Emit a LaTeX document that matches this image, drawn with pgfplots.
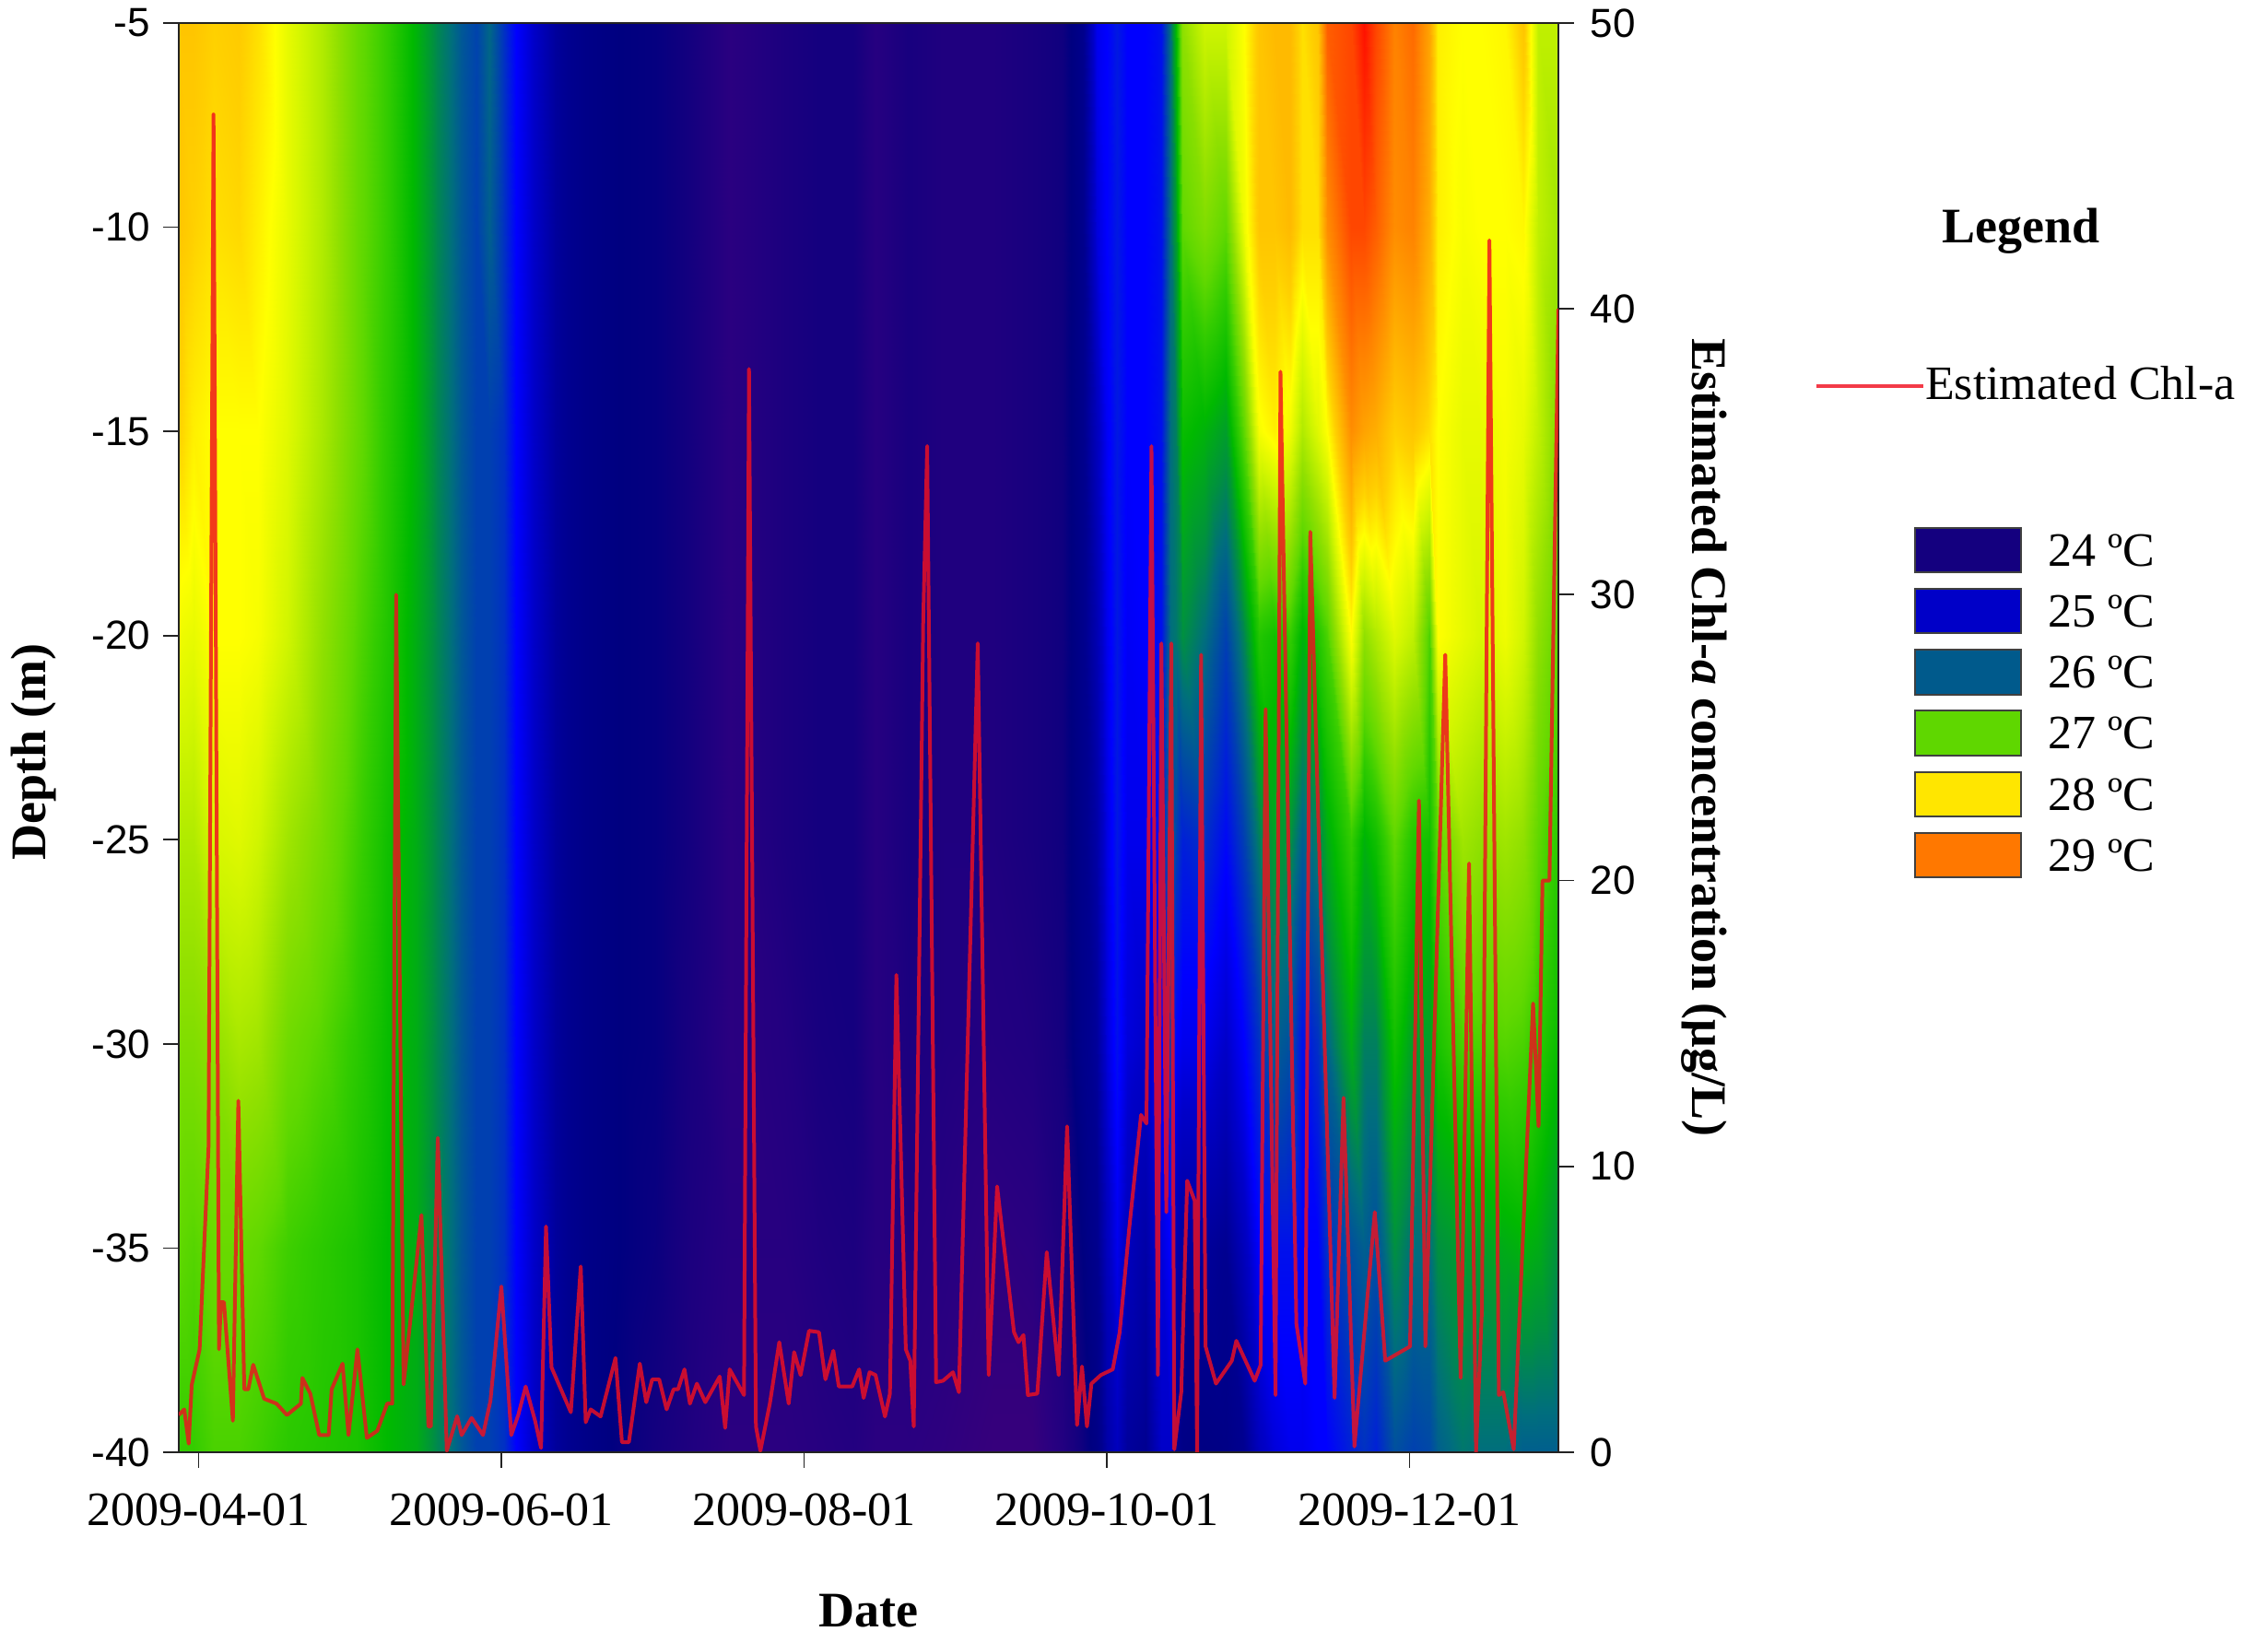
\documentclass[border=0pt]{standalone}
\usepackage{fontspec}
\setmainfont{Liberation Serif}
\setsansfont{Liberation Sans}
\usepackage{pgfplots}
\pgfplotsset{compat=1.18}
\pgfplotsset{colormap={tempc}{
 rgb255(235)=(58,0,122)
 rgb255(237)=(42,0,128)
 rgb255(240)=(20,0,127)
 rgb255(242)=(0,0,128)
 rgb255(245)=(0,0,144)
 rgb255(250)=(0,0,200)
 rgb255(253)=(0,0,255)
 rgb255(257)=(0,64,176)
 rgb255(260)=(0,110,125)
 rgb255(262)=(0,144,64)
 rgb255(265)=(0,185,0)
 rgb255(268)=(51,204,0)
 rgb255(270)=(96,216,0)
 rgb255(273)=(144,224,0)
 rgb255(277)=(208,245,0)
 rgb255(280)=(255,255,0)
 rgb255(283)=(255,208,0)
 rgb255(290)=(255,130,0)
 rgb255(295)=(255,70,0)
 rgb255(300)=(255,10,0)
}}
\definecolor{chl}{RGB}{240,16,32}
\definecolor{axc}{RGB}{35,35,35}
\begin{document}
\begin{tikzpicture}
\path[use as bounding box] (0,0) rectangle (615.25pt,445.75pt);
\begin{axis}[
  at={(48.5pt,51.75pt)}, anchor=south west,
  scale only axis, width=374.25pt, height=387.75pt,
  view={0}{90},
  xmin=-4, xmax=274, ymin=-40, ymax=-5,
  point meta min=23.5, point meta max=30,
  colormap name=tempc,
  xtick={0,61,122,183,244},
  xticklabels={2009-04-01,2009-06-01,2009-08-01,2009-10-01,2009-12-01},
  ytick={-40,-35,-30,-25,-20,-15,-10,-5},
  ztick=\empty,
  xtick pos=lower, ytick pos=left,
  tick align=outside,
  major tick length=4.2pt,
  tick style={color=axc,line width=0.45pt},
  axis line style={color=axc,line width=0.5pt},
  axis on top,
  /pgf/number format/assume math mode=true,
  xticklabel style={font=\fontsize{13}{15}\selectfont,yshift=-3.6pt},
  yticklabel style={font=\sffamily\fontsize{11}{13}\selectfont,xshift=0pt},
  xlabel={\textbf{Date}},
  ylabel={\textbf{Depth (m)}},
  xlabel style={font=\fontsize{13.5}{16}\selectfont,at={(axis description cs:0.5,-0.111)},anchor=center},
  ylabel style={font=\fontsize{13.5}{16}\selectfont,at={(axis description cs:-0.105,0.49)},anchor=center,rotate=0},
]
\addplot3[surf,shader=interp,mesh/rows=8,mesh/ordering=y varies] coordinates {
(-4,-40,26.8)(-4,-35,27.0)(-4,-30,27.2)(-4,-25,27.5)(-4,-20,27.9)(-4,-15,28.3)(-4,-10,28.4)(-4,-5,28.4)
(-1,-40,26.8)(-1,-35,26.95)(-1,-30,27.2)(-1,-25,27.5)(-1,-20,27.85)(-1,-15,28.1)(-1,-10,28.3)(-1,-5,28.4)
(3,-40,26.9)(3,-35,27.05)(3,-30,27.3)(3,-25,27.75)(3,-20,28.0)(3,-15,28.0)(3,-10,28.2)(3,-5,28.3)
(8,-40,26.9)(8,-35,27.05)(8,-30,27.45)(8,-25,27.8)(8,-20,28.0)(8,-15,28.0)(8,-10,28.25)(8,-5,28.35)
(12,-40,26.85)(12,-35,27.0)(12,-30,27.4)(12,-25,27.7)(12,-20,27.95)(12,-15,28.0)(12,-10,28.1)(12,-5,28.2)
(18,-40,26.75)(18,-35,26.85)(18,-30,27.1)(18,-25,27.4)(18,-20,27.7)(18,-15,27.8)(18,-10,27.85)(18,-5,27.85)
(25,-40,26.7)(25,-35,26.75)(25,-30,26.95)(25,-25,27.15)(25,-20,27.3)(25,-15,27.45)(25,-10,27.5)(25,-5,27.5)
(32,-40,26.65)(32,-35,26.65)(32,-30,26.75)(32,-25,26.85)(32,-20,26.95)(32,-15,27.05)(32,-10,27.05)(32,-5,27.05)
(38,-40,26.5)(38,-35,26.5)(38,-30,26.55)(38,-25,26.6)(38,-20,26.7)(38,-15,26.75)(38,-10,26.8)(38,-5,26.8)
(44,-40,26.4)(44,-35,26.4)(44,-30,26.4)(44,-25,26.4)(44,-20,26.4)(44,-15,26.45)(44,-10,26.45)(44,-5,26.45)
(48,-40,26.15)(48,-35,26.15)(48,-30,26.15)(48,-25,26.15)(48,-20,26.15)(48,-15,26.15)(48,-10,26.15)(48,-5,26.15)
(51,-40,26.0)(51,-35,26.0)(51,-30,26.0)(51,-25,26.0)(51,-20,26.0)(51,-15,26.0)(51,-10,26.0)(51,-5,26.0)
(53,-40,25.85)(53,-35,25.85)(53,-30,25.85)(53,-25,25.85)(53,-20,25.85)(53,-15,25.85)(53,-10,25.85)(53,-5,25.85)
(56,-40,25.7)(56,-35,25.7)(56,-30,25.7)(56,-25,25.7)(56,-20,25.7)(56,-15,25.7)(56,-10,25.7)(56,-5,25.72)
(58.5,-40,25.7)(58.5,-35,25.7)(58.5,-30,25.7)(58.5,-25,25.7)(58.5,-20,25.7)(58.5,-15,25.7)(58.5,-10,25.9)(58.5,-5,25.95)
(61.5,-40,25.6)(61.5,-35,25.6)(61.5,-30,25.6)(61.5,-25,25.6)(61.5,-20,25.6)(61.5,-15,25.6)(61.5,-10,25.6)(61.5,-5,25.6)
(64,-40,25.3)(64,-35,25.3)(64,-30,25.3)(64,-25,25.3)(64,-20,25.3)(64,-15,25.3)(64,-10,25.3)(64,-5,25.3)
(67,-40,25.05)(67,-35,25.05)(67,-30,25.05)(67,-25,25.05)(67,-20,25.05)(67,-15,25.05)(67,-10,25.05)(67,-5,25.05)
(72,-40,24.6)(72,-35,24.6)(72,-30,24.6)(72,-25,24.6)(72,-20,24.6)(72,-15,24.6)(72,-10,24.6)(72,-5,24.6)
(78,-40,24.35)(78,-35,24.35)(78,-30,24.35)(78,-25,24.35)(78,-20,24.35)(78,-15,24.35)(78,-10,24.35)(78,-5,24.35)
(85,-40,24.15)(85,-35,24.2)(85,-30,24.2)(85,-25,24.2)(85,-20,24.2)(85,-15,24.2)(85,-10,24.2)(85,-5,24.2)
(92,-40,24.0)(92,-35,24.1)(92,-30,24.15)(92,-25,24.15)(92,-20,24.15)(92,-15,24.15)(92,-10,24.15)(92,-5,24.15)
(99,-40,23.85)(99,-35,23.9)(99,-30,23.95)(99,-25,24.0)(99,-20,24.0)(99,-15,24.0)(99,-10,24.0)(99,-5,24.0)
(107,-40,23.7)(107,-35,23.75)(107,-30,23.7)(107,-25,23.7)(107,-20,23.7)(107,-15,23.7)(107,-10,23.7)(107,-5,23.7)
(118,-40,23.7)(118,-35,23.75)(118,-30,23.8)(118,-25,23.9)(118,-20,23.9)(118,-15,23.9)(118,-10,23.9)(118,-5,23.9)
(125,-40,23.75)(125,-35,23.85)(125,-30,23.95)(125,-25,24.0)(125,-20,24.0)(125,-15,24.0)(125,-10,24.0)(125,-5,24.0)
(132,-40,23.8)(132,-35,23.9)(132,-30,24.0)(132,-25,24.0)(132,-20,24.0)(132,-15,24.0)(132,-10,24.0)(132,-5,24.0)
(136.4,-40,23.7)(136.4,-35,23.75)(136.4,-30,23.75)(136.4,-25,23.75)(136.4,-20,23.75)(136.4,-15,23.75)(136.4,-10,23.75)(136.4,-5,23.75)
(143,-40,23.7)(143,-35,23.8)(143,-30,23.9)(143,-25,23.95)(143,-20,23.95)(143,-15,23.95)(143,-10,23.95)(143,-5,23.95)
(150,-40,23.65)(150,-35,23.75)(150,-30,23.85)(150,-25,23.85)(150,-20,23.85)(150,-15,23.85)(150,-10,23.85)(150,-5,23.85)
(160,-40,23.55)(160,-35,23.65)(160,-30,23.8)(160,-25,23.85)(160,-20,23.85)(160,-15,23.85)(160,-10,23.85)(160,-5,23.85)
(168,-40,23.55)(168,-35,23.7)(168,-30,23.85)(168,-25,23.95)(168,-20,23.95)(168,-15,23.95)(168,-10,23.95)(168,-5,23.95)
(174,-40,23.8)(174,-35,23.9)(174,-30,24.0)(174,-25,24.05)(174,-20,24.05)(174,-15,24.05)(174,-10,24.05)(174,-5,24.05)
(178,-40,24.05)(178,-35,24.2)(178,-30,24.4)(178,-25,24.4)(178,-20,24.4)(178,-15,24.4)(178,-10,24.4)(178,-5,24.4)
(181,-40,24.3)(181,-35,24.45)(181,-30,24.6)(181,-25,24.7)(181,-20,24.8)(181,-15,24.9)(181,-10,25.1)(181,-5,25.2)
(183,-40,24.7)(183,-35,24.9)(183,-30,25.1)(183,-25,25.15)(183,-20,25.2)(183,-15,25.25)(183,-10,25.3)(183,-5,25.3)
(185,-40,24.9)(185,-35,25.2)(185,-30,25.4)(185,-25,25.45)(185,-20,25.45)(185,-15,25.45)(185,-10,25.45)(185,-5,25.45)
(187,-40,24.6)(187,-35,24.9)(187,-30,25.1)(187,-25,25.2)(187,-20,25.25)(187,-15,25.3)(187,-10,25.3)(187,-5,25.3)
(190.8,-40,24.5)(190.8,-35,24.7)(190.8,-30,25.0)(190.8,-25,25.2)(190.8,-20,25.3)(190.8,-15,25.3)(190.8,-10,25.3)(190.8,-5,25.3)
(193.9,-40,25.0)(193.9,-35,25.1)(193.9,-30,25.3)(193.9,-25,25.4)(193.9,-20,25.4)(193.9,-15,25.4)(193.9,-10,25.4)(193.9,-5,25.4)
(195.8,-40,25.0)(195.8,-35,25.3)(195.8,-30,25.7)(195.8,-25,26.0)(195.8,-20,26.0)(195.8,-15,26.0)(195.8,-10,26.0)(195.8,-5,26.0)
(197,-40,24.5)(197,-35,24.8)(197,-30,25.3)(197,-25,25.7)(197,-20,26.05)(197,-15,26.1)(197,-10,26.3)(197,-5,26.5)
(198.2,-40,24.3)(198.2,-35,24.6)(198.2,-30,25.2)(198.2,-25,25.5)(198.2,-20,26.2)(198.2,-15,26.55)(198.2,-10,27.0)(198.2,-5,27.3)
(202.6,-40,24.25)(202.6,-35,24.6)(202.6,-30,25.2)(202.6,-25,25.6)(202.6,-20,26.0)(202.6,-15,26.45)(202.6,-10,27.2)(202.6,-5,27.7)
(206.9,-40,24.3)(206.9,-35,24.5)(206.9,-30,25.0)(206.9,-25,25.35)(206.9,-20,25.7)(206.9,-15,26.3)(206.9,-10,27.0)(206.9,-5,27.7)
(210.6,-40,24.5)(210.6,-35,24.9)(210.6,-30,25.3)(210.6,-25,25.7)(210.6,-20,26.15)(210.6,-15,27.0)(210.6,-10,27.9)(210.6,-5,28.0)
(213.7,-40,24.9)(213.7,-35,25.3)(213.7,-30,25.6)(213.7,-25,26.1)(213.7,-20,26.7)(213.7,-15,27.95)(213.7,-10,28.4)(213.7,-5,28.4)
(216.8,-40,25.1)(216.8,-35,25.4)(216.8,-30,25.9)(216.8,-25,26.3)(216.8,-20,26.6)(216.8,-15,28.1)(216.8,-10,28.4)(216.8,-5,28.5)
(219.9,-40,25.2)(219.9,-35,25.4)(219.9,-30,25.8)(219.9,-25,26.2)(219.9,-20,26.8)(219.9,-15,27.9)(219.9,-10,28.5)(219.9,-5,28.5)
(222.4,-40,25.2)(222.4,-35,25.3)(222.4,-30,25.4)(222.4,-25,25.9)(222.4,-20,26.45)(222.4,-15,27.5)(222.4,-10,28.2)(222.4,-5,28.2)
(225.5,-40,25.3)(225.5,-35,25.3)(225.5,-30,25.6)(225.5,-25,26.1)(225.5,-20,26.7)(225.5,-15,27.8)(225.5,-10,28.2)(225.5,-5,28.4)
(227.3,-40,25.3)(227.3,-35,25.6)(227.3,-30,25.95)(227.3,-25,26.4)(227.3,-20,26.9)(227.3,-15,28.0)(227.3,-10,28.9)(227.3,-5,29.3)
(232.3,-40,25.5)(232.3,-35,25.8)(232.3,-30,26.4)(232.3,-25,26.8)(232.3,-20,28.0)(232.3,-15,28.9)(232.3,-10,29.5)(232.3,-5,29.5)
(234.8,-40,25.6)(234.8,-35,25.9)(234.8,-30,26.1)(234.8,-25,26.45)(234.8,-20,27.3)(234.8,-15,28.7)(234.8,-10,29.5)(234.8,-5,29.95)
(237.2,-40,25.5)(237.2,-35,25.8)(237.2,-30,26.1)(237.2,-25,26.6)(237.2,-20,27.5)(237.2,-15,28.6)(237.2,-10,29.3)(237.2,-5,29.5)
(241,-40,25.8)(241,-35,26.2)(241,-30,26.6)(241,-25,27.0)(241,-20,27.8)(241,-15,28.3)(241,-10,28.9)(241,-5,29.0)
(244.7,-40,25.7)(244.7,-35,26.0)(244.7,-30,26.3)(244.7,-25,26.7)(244.7,-20,27.6)(244.7,-15,28.4)(244.7,-10,29.0)(244.7,-5,29.2)
(248,-40,25.75)(248,-35,26.0)(248,-30,26.3)(248,-25,26.6)(248,-20,26.9)(248,-15,28.2)(248,-10,28.6)(248,-5,28.7)
(249.6,-40,25.9)(249.6,-35,26.2)(249.6,-30,26.65)(249.6,-25,27.0)(249.6,-20,28.0)(249.6,-15,28.0)(249.6,-10,28.1)(249.6,-5,28.1)
(254.6,-40,26.05)(254.6,-35,26.3)(254.6,-30,26.9)(254.6,-25,27.4)(254.6,-20,27.85)(254.6,-15,27.85)(254.6,-10,27.95)(254.6,-5,28.0)
(258.3,-40,26.0)(258.3,-35,26.3)(258.3,-30,26.9)(258.3,-25,27.3)(258.3,-20,27.75)(258.3,-15,27.85)(258.3,-10,28.0)(258.3,-5,28.0)
(263.2,-40,26.0)(263.2,-35,26.4)(263.2,-30,26.95)(263.2,-25,27.4)(263.2,-20,27.9)(263.2,-15,27.95)(263.2,-10,28.0)(263.2,-5,28.05)
(267,-40,25.9)(267,-35,26.45)(267,-30,26.9)(267,-25,27.3)(267,-20,27.7)(267,-15,27.85)(267,-10,28.05)(267,-5,28.4)
(270,-40,25.9)(270,-35,26.4)(270,-30,26.75)(270,-25,27.0)(270,-20,27.3)(270,-15,27.6)(270,-10,27.6)(270,-5,27.6)
(274,-40,25.9)(274,-35,26.2)(274,-30,26.55)(274,-25,26.75)(274,-20,27.0)(274,-15,27.2)(274,-10,27.4)(274,-5,27.6)
};
\end{axis}
\begin{axis}[
  at={(48.5pt,51.75pt)}, anchor=south west,
  scale only axis, width=374.25pt, height=387.75pt,
  xmin=-4, xmax=274, ymin=0, ymax=50,
  axis x line=none,
  axis y line*=right,
  ytick={0,10,20,30,40,50},
  tick align=outside,
  major tick length=4.2pt,
  tick style={color=axc,line width=0.45pt},
  axis line style={color=axc,line width=0.5pt},
  /pgf/number format/assume math mode=true,
  yticklabel style={font=\sffamily\fontsize{11}{13}\selectfont,xshift=1pt},
  ylabel={\textbf{Estimated Chl-\textit{a} concentration (μg/L)}},
  ylabel style={font=\fontsize{13.5}{16}\selectfont,at={(axis description cs:1.1056,0.5)},anchor=center,rotate=180},
  legend style={at={(axis description cs:1.186,0.746)},anchor=west,draw=none,fill=none,inner sep=0pt,outer sep=0pt,
     font=\fontsize{13}{15}\selectfont,nodes={inner sep=0pt}},
  legend image code/.code={\draw[chl,line width=0.9pt] (0pt,0pt) -- (29pt,0pt);},
  legend cell align=left,
  /tikz/every even column/.style={column sep=6.5pt},
]
\addplot[chl,opacity=0.82,line width=1pt,line join=round,no marks] coordinates {
(-4,1.3)(-2.9,1.5)(-2,0.3)(-1.4,2.35)(0.2,3.6)(2,10.7)(3,46.8)(4.1,3.6)(4.5,5.25)(5.1,5.25)(6.9,1.1)(8,12.3)(9.2,2.2)(10,2.2)(11,3.06)(13.2,1.87)(15.7,1.7)(17.8,1.3)(20.6,1.7)(20.9,2.6)(22.5,2.05)(24.3,0.6)(26.2,0.6)(26.8,2.2)(29,3.1)(30.2,0.6)(32,3.6)(33.9,0.5)(36,0.75)(38,1.7)(39,1.7)(39.8,30)(41.3,2.37)(44.9,8.3)(46.3,0.9)(46.8,0.9)(48.2,11)(50,0.05)(52.1,1.26)(53,0.6)(55,1.2)(57.3,0.6)(58.8,1.8)(61,5.8)(63,0.6)(64.4,1.3)(65.9,2.3)(67.8,1.1)(69,0.15)(70,7.9)(71.1,2.97)(75,1.4)(77,6.5)(78,1.05)(79,1.5)(81,1.25)(84,3.3)(85.3,0.35)(86.7,0.35)(88.9,3.1)(90.2,1.75)(91.4,2.55)(92.8,2.55)(94.3,1.5)(95.7,2.2)(96.6,2.2)(97.9,2.9)(99,1.7)(100.4,2.4)(102.1,1.75)(105,2.65)(106.1,0.85)(107,2.9)(109.9,2)(110.9,37.9)(112.3,0.9)(113.2,0.05)(115.1,1.7)(117,3.85)(118.9,1.7)(120,3.5)(121.3,2.7)(123,4.25)(125,4.2)(126.3,2.55)(127.9,3.55)(129,2.3)(131.7,2.3)(133.1,2.9)(134,1.9)(135.2,2.8)(136.4,2.7)(138.3,1.25)(139.3,2.05)(140.6,16.7)(142.5,3.6)(143.4,3.2)(144.1,0.9)(146,29)(146.8,35.2)(148.6,2.45)(150,2.5)(152,2.8)(153.2,2.1)(157,28.3)(159.2,2.7)(160.9,9.3)(164.3,4.2)(165.2,3.85)(166.2,4.1)(167.1,2)(169,2.05)(170.9,7)(173.3,2.7)(175,11.4)(177,0.95)(178,3)(179,0.9)(179.9,2.4)(181.8,2.7)(184.2,2.9)(185.6,4.2)(187.5,7.8)(189.9,11.8)(191,11.5)(192,35.2)(193.3,2.7)(194,28.3)(195,8.4)(196,28.3)(196.6,0.1)(198,2.1)(199.2,9.5)(200.7,8.8)(201.2,0)(202,27.9)(202.9,3.7)(205,2.4)(208.2,3.2)(209.1,3.9)(212.8,2.5)(214,3.05)(215,26)(217,2)(218,37.8)(221.2,4.5)(223,2.4)(224,32.2)(228.9,1.9)(230.7,12.4)(232.9,0.2)(237,8.4)(239.1,3.2)(244.1,3.7)(245.9,22.8)(247.2,3.7)(251.2,27.9)(254.3,2.6)(256,20.6)(257.4,0)(258.6,5)(260.1,42.4)(262,2)(262.9,2.1)(265,0.1)(268.9,15.7)(270,11.4)(270.8,20)(272.2,20)(274,40)
};
\addlegendentry{Estimated Chl-a}
\end{axis}
\node[font=\fontsize{13.5}{16}\selectfont\bfseries,anchor=center] at (548.25pt,383pt) {Legend};
\foreach \top/\bot/\col/\lab in {
 573.5/621.4/{rgb,255:red,20;green,0;blue,127}/24,
 639/687/{rgb,255:red,0;green,0;blue,200}/25,
 705/753.6/{rgb,255:red,0;green,90;blue,140}/26,
 771/820/{rgb,255:red,95;green,215;blue,0}/27,
 838/886/{rgb,255:red,255;green,230;blue,0}/28,
 904/952.5/{rgb,255:red,255;green,120;blue,0}/29}{
  \path[fill={\col},draw=black!75,line width=0.5pt]
     (519.5pt,{(1783-\top)/4*1pt}) rectangle (548.25pt,{(1783-\bot)/4*1pt});
  \node[font=\fontsize{13}{15}\selectfont,anchor=west,inner sep=0pt] at (555.5pt,{(1783-(\top+\bot)/2)/4*1pt}) {\lab\ ºC};
}
\end{tikzpicture}
\end{document}
